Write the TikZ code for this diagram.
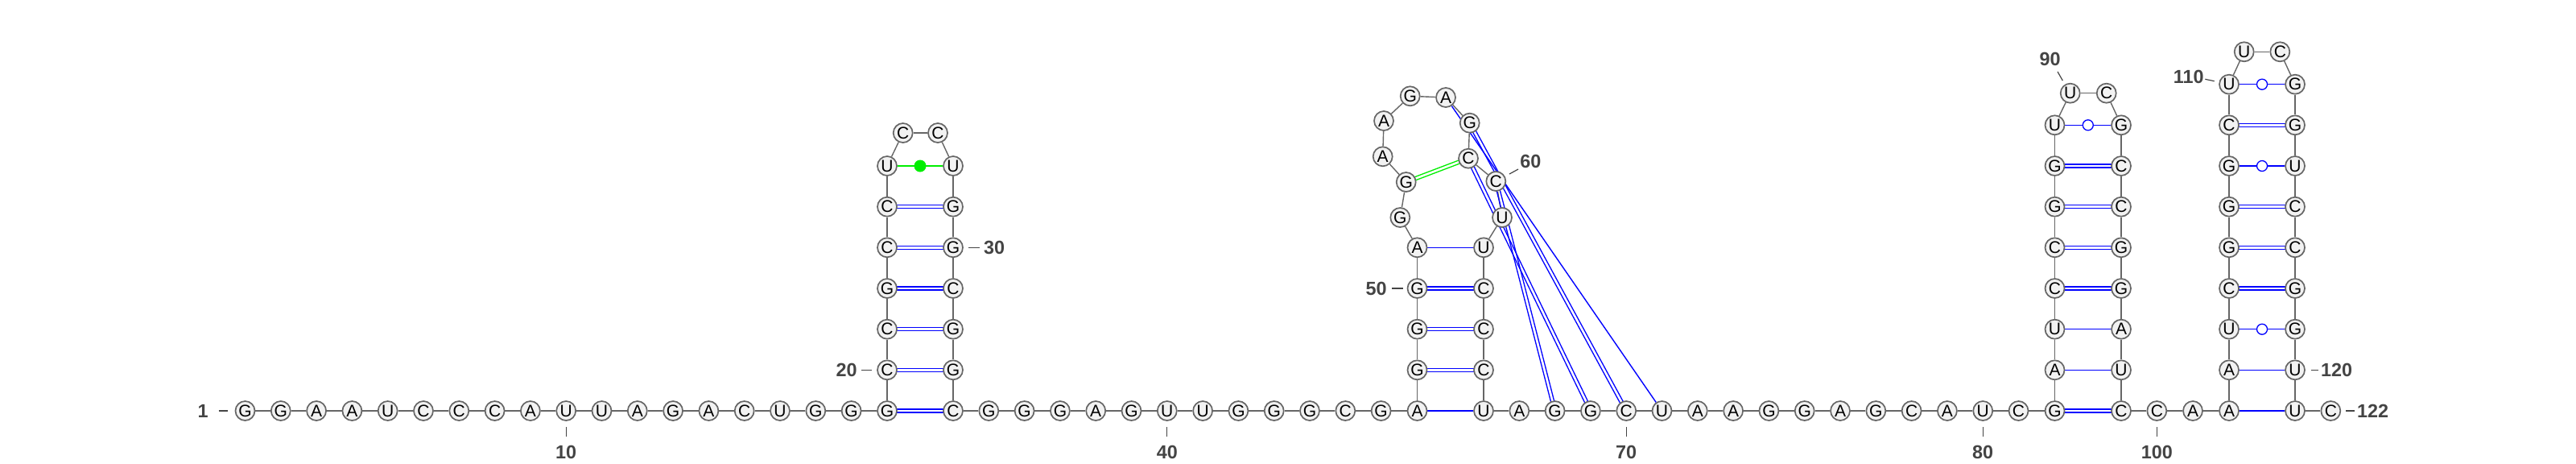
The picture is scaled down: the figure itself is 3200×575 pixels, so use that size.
\documentclass[tikz,border=0pt]{standalone}
\usepackage{fontspec}
\setmainfont{Liberation Sans}
\usetikzlibrary{calc}
\definecolor{ringgray}{HTML}{666666}
\definecolor{nodefill}{HTML}{F2F2F2}
\definecolor{labgray}{HTML}{444444}
\definecolor{pairblue}{HTML}{0000FF}
\definecolor{pairgreen}{HTML}{00EE00}
\pgfdeclarelayer{paper}
\pgfdeclarelayer{links}
\pgfsetlayers{paper,links,main}
\newcommand\dblpair[3]{%
  \draw[#3] ($(n#1)!1.05pt!90:(n#2)$) -- ($(n#2)!1.05pt!-90:(n#1)$);
  \draw[#3] ($(n#1)!1.05pt!-90:(n#2)$) -- ($(n#2)!1.05pt!90:(n#1)$);}
\begin{document}
\begin{tikzpicture}[x=0.5pt,y=-0.5pt,
  nt/.style={circle,draw=ringgray,fill=nodefill,line width=0.85pt,minimum size=12pt,inner sep=0pt,font=\fontsize{10.5}{12}\selectfont},
  bb/.style={draw=ringgray,line width=0.7pt},
  wc/.style={draw=pairblue,line width=0.7pt},
  dwc/.style={draw=pairblue,line width=0.65pt},
  dgr/.style={draw=pairgreen,line width=0.65pt},
  grl/.style={draw=pairgreen,line width=0.7pt},
  gu/.style={circle,draw=pairblue,fill=white,line width=0.65pt,minimum size=6.5pt,inner sep=0pt},
  gdot/.style={circle,fill=pairgreen,minimum size=7.5pt,inner sep=0pt},
  lab/.style={text=labgray,inner sep=0pt,font=\fontsize{11.7}{13}\selectfont\bfseries},
  tick/.style={draw=labgray,line width=0.6pt}]
\useasboundingbox (0,0) rectangle (3200,575);
\begin{pgfonlayer}{paper}
\fill[white] (0,0) rectangle (3200,575);
\end{pgfonlayer}
% nucleotides
\foreach \i/\x/\y/\l in {
1/304.5/510/G,2/348.8/510/G,3/393.1/510/A,4/437.4/510/A,5/481.7/510/U,
6/526.0/510/C,7/570.3/510/C,8/614.6/510/C,9/658.9/510/A,10/703.2/510/U,
11/747.5/510/U,12/791.8/510/A,13/836.1/510/G,14/880.4/510/A,15/924.7/510/C,
16/969.0/510/U,17/1013.3/510/G,18/1057.6/510/G,19/1102/510/G,20/1102/459.3/C,
21/1102/408.7/C,22/1102/358/G,23/1102/307.3/C,24/1102/256.7/C,25/1102/206/U,
26/1121.7/165/C,27/1165/165/C,28/1184/206/U,29/1184/256.7/G,30/1184/307.3/G,
31/1184/358/C,32/1184/408.7/G,33/1184/459.3/G,34/1184/510/C,35/1228.3/510/G,
36/1272.6/510/G,37/1316.9/510/G,38/1361.2/510/A,39/1405.5/510/G,40/1449.8/510/U,
41/1494.1/510/U,42/1538.4/510/G,43/1582.7/510/G,44/1627.0/510/G,45/1671.3/510/C,
46/1715.6/510/G,47/1760.5/510/A,48/1760.5/459.3/G,49/1760.5/408.7/G,50/1760.5/358/G,
51/1760.5/307.3/A,52/1739.3/270/G,53/1746.7/226/G,54/1717.7/194.3/A,55/1719/150/A,
56/1751.7/119.3/G,57/1796/121/A,58/1825.7/152.7/G,59/1824/196.7/C,60/1858.3/225/C,
61/1866/270/U,62/1843/307.3/U,63/1843/358/C,64/1843/408.7/C,65/1843/459.3/C,
66/1843/510/U,67/1887.3/510/A,68/1931.6/510/G,69/1975.9/510/G,70/2020.2/510/C,
71/2064.5/510/U,72/2108.8/510/A,73/2153.1/510/A,74/2197.4/510/G,75/2241.7/510/G,
76/2286.0/510/A,77/2330.3/510/G,78/2374.6/510/C,79/2418.9/510/A,80/2463.2/510/U,
81/2507.5/510/C,82/2552.5/510/G,83/2552.5/459.3/A,84/2552.5/408.7/U,85/2552.5/358/C,
86/2552.5/307.3/C,87/2552.5/256.7/G,88/2552.5/206/G,89/2552.5/155.3/U,90/2571.7/115.7/U,
91/2616.7/115.7/C,92/2635/155.3/G,93/2635/206/C,94/2635/256.7/C,95/2635/307.3/G,
96/2635/358/G,97/2635/408.7/A,98/2635/459.3/U,99/2635/510/C,100/2679.3/510/C,
101/2724/510/A,102/2769/510/A,103/2769/459.3/A,104/2769/408.7/U,105/2769/358/C,
106/2769/307.3/G,107/2769/256.7/G,108/2769/206/G,109/2769/155.3/C,110/2769/104.7/U,
111/2787.7/64.3/U,112/2832.3/64.3/C,113/2851/104.7/G,114/2851/155.3/G,115/2851/206/U,
116/2851/256.7/C,117/2851/307.3/C,118/2851/358/G,119/2851/408.7/G,120/2851/459.3/U,
121/2851/510/U,122/2895.3/510/C}
  \node[nt] (n\i) at (\x,\y) {\l};
% links under the nucleotides
\begin{pgfonlayer}{links}
\foreach \i [evaluate=\i as \j using int(\i+1)] in {1,...,121}
  \draw[bb] (n\i) -- (n\j);
% stem 1
\foreach \a/\b in {19/34,20/33,21/32,22/31,23/30,24/29} {\dblpair{\a}{\b}{dwc}}
\draw[grl] (n25) -- node[gdot] (gd1) {} (n28);
% stem 2 and pseudoknot
\draw[wc] (n47) -- (n66);
\draw[wc] (n51) -- (n62);
\foreach \a/\b in {48/65,49/64,50/63} {\dblpair{\a}{\b}{dwc}}
\dblpair{53}{59}{dgr}
\draw[wc] (n57) -- (n71);
\foreach \a/\b in {58/70,59/69,60/68} {\dblpair{\a}{\b}{dwc}}
% stem 3
\foreach \a/\b in {82/99,85/96,86/95,87/94,88/93} {\dblpair{\a}{\b}{dwc}}
\draw[wc] (n83) -- (n98);
\draw[wc] (n84) -- (n97);
\draw[wc] (n89) -- node[gu] (gu1) {} (n92);
% stem 4
\foreach \a/\b in {105/118,106/117,107/116,109/114} {\dblpair{\a}{\b}{dwc}}
\draw[wc] (n102) -- (n121);
\draw[wc] (n103) -- (n120);
\draw[wc] (n104) -- node[gu] (gu2) {} (n119);
\draw[wc] (n108) -- node[gu] (gu3) {} (n115);
\draw[wc] (n110) -- node[gu] (gu4) {} (n113);
\end{pgfonlayer}
% numbering
\node[lab,anchor=east] (l1) at (259,510) {1};
\draw[tick] (271.7,510) -- (283.3,510);
\foreach \x/\t in {703.2/10,1449.8/40,2020.2/70,2463.2/80,2679.3/100} {
  \draw[tick] (\x,530) -- (\x,542);
  \node[lab] (l\t) at (\x,561) {\t};
}
\node[lab,anchor=east] (l20) at (1065,459.3) {20};
\draw[tick] (1070,459.3) -- (1083.3,459.3);
\draw[tick] (1203.3,307.3) -- (1216.7,307.3);
\node[lab,anchor=west] (l30) at (1221.7,307.3) {30};
\node[lab,anchor=east] (l50) at (1723,358) {50};
\draw[tick] (1729.3,358) -- (1742.7,358);
\draw[tick] (1875,216) -- (1886,210);
\node[lab,anchor=west] (l60) at (1888,200) {60};
\node[lab] (l90) at (2546.7,73.3) {90};
\draw[tick] (2556,89) -- (2562.3,100);
\node[lab,anchor=east] (l110) at (2738,95) {110};
\draw[tick] (2739.3,98.3) -- (2750.7,100.7);
\draw[tick] (2870.7,459.3) -- (2880,459.3);
\node[lab,anchor=west] (l120) at (2882.7,459.3) {120};
\draw[tick] (2914.3,510) -- (2925,510);
\node[lab,anchor=west] (l122) at (2927.7,510) {122};
\end{tikzpicture}
\end{document}
